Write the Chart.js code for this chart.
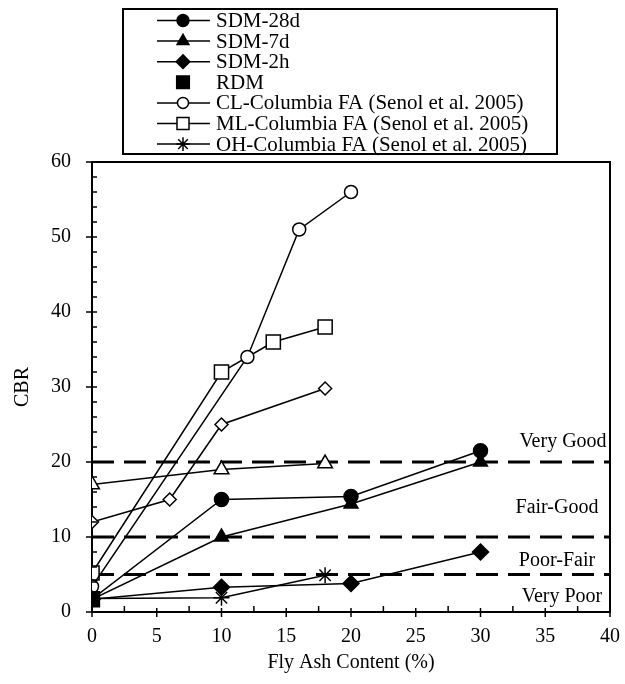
<!DOCTYPE html>
<html>
<head>
<meta charset="utf-8">
<script src="https://cdn.jsdelivr.net/npm/chart.js@4"></script>
<style>
  body { margin: 0; background: #fff; }
  canvas { display: block; }
</style>
</head>
<body>
<canvas id="myChart" width="625" height="684"></canvas>
<script>
// Messwerte (Fly Ash Content % -> CBR)
const x_sdm = [0, 10, 20, 30];
const cbr_sdm28d = [1.7, 15, 15.4, 21.5];
const cbr_sdm7d = [1.7, 10, 14.4, 20];
const cbr_sdm2h = [1.7, 3.3, 3.8, 8];
const x_rdm = [0];
const cbr_rdm = [1.7];
const x_cl = [0, 12, 16, 20];
const cbr_cl = [3.4, 34, 51, 56];
const x_ml = [0, 10, 14, 18];
const cbr_ml = [5.2, 32, 36, 38];
const x_oh = [0, 10, 18];
const cbr_oh = [1.8, 1.9, 4.9];
// zwei Reihen ohne Legendeneintrag
const x_diamondOpen = [0, 6, 10, 18];
const cbr_diamondOpen = [12, 15, 25, 29.8];
const x_triangleOpen = [0, 10, 18];
const cbr_triangleOpen = [17, 19, 19.8];

// Bewertungsgrenzen und Beschriftungen
const ratingLimits = [5, 10, 20];
const ratingLabels = ['Very Good', 'Fair-Good', 'Poor-Fair', 'Very Poor'];

const xTicks = [0, 5, 10, 15, 20, 25, 30, 35, 40];
const yTicks = [0, 10, 20, 30, 40, 50, 60];

const FONT = 'Liberation Serif, Times New Roman, serif';

function pts(xs, ys) {
    return xs.map((x, i) => ({ x: x, y: ys[i] }));
}

function series(label, xs, ys, style, radius, filled, showLine, inLegend) {
    return {
        label: label,
        data: pts(xs, ys),
        showLine: showLine,
        borderColor: '#000',
        borderWidth: 1.5,
        pointStyle: style,
        pointRadius: radius,
        pointBorderWidth: 1.5,
        pointBorderColor: '#000',
        pointBackgroundColor: filled ? '#000' : '#fff',
        inLegend: inLegend,
    };
}

const datasets = [
    series('SDM-28d', x_sdm, cbr_sdm28d, 'circle', 7, true, true, true),
    series('SDM-7d', x_sdm, cbr_sdm7d, 'triangle', 8, true, true, true),
    series('SDM-2h', x_sdm, cbr_sdm2h, 'rectRot', 8, true, true, true),
    series('RDM', x_rdm, cbr_rdm, 'rect', 10.5, true, false, true),
    series('CL-Columbia FA (Senol et al. 2005)', x_cl, cbr_cl, 'circle', 6.5, false, true, true),
    series('ML-Columbia FA (Senol et al. 2005)', x_ml, cbr_ml, 'rect', 10, false, true, true),
    series('OH-Columbia FA (Senol et al. 2005)', x_oh, cbr_oh, 'star', 8, false, true, true),
    series('open diamond', x_diamondOpen, cbr_diamondOpen, 'rectRot', 6.5, false, true, false),
    series('open triangle', x_triangleOpen, cbr_triangleOpen, 'triangle', 8.5, false, true, false),
];

function marker(ctx, style, r, filled, x, y) {
    ctx.save();
    ctx.beginPath();
    if (style === 'circle') {
        ctx.arc(x, y, r, 0, Math.PI * 2);
    } else if (style === 'triangle') {
        ctx.moveTo(x, y - r);
        ctx.lineTo(x + r * 0.866, y + r * 0.5);
        ctx.lineTo(x - r * 0.866, y + r * 0.5);
        ctx.closePath();
    } else if (style === 'rectRot') {
        ctx.moveTo(x, y - r); ctx.lineTo(x + r, y); ctx.lineTo(x, y + r); ctx.lineTo(x - r, y);
        ctx.closePath();
    } else if (style === 'rect') {
        const s = r * Math.SQRT1_2;
        ctx.rect(x - s, y - s, 2 * s, 2 * s);
    } else if (style === 'star') {
        for (let a = 0; a < 4; a++) {
            const ang = a * Math.PI / 4;
            ctx.moveTo(x - Math.cos(ang) * r, y - Math.sin(ang) * r);
            ctx.lineTo(x + Math.cos(ang) * r, y + Math.sin(ang) * r);
        }
    }
    ctx.lineWidth = 1.5;
    ctx.strokeStyle = '#000';
    if (style !== 'star') {
        ctx.fillStyle = filled ? '#000' : '#fff';
        ctx.fill();
    }
    ctx.stroke();
    ctx.restore();
}

const framePlugin = {
    id: 'frame',
    beforeDatasetsDraw(chart) {
        const ctx = chart.ctx, a = chart.chartArea, ys = chart.scales.y;
        ctx.save();
        ctx.strokeStyle = '#000';
        ctx.lineWidth = 3;
        ctx.setLineDash([22, 10]);
        ratingLimits.forEach(v => {
            const py = ys.getPixelForValue(v);
            ctx.beginPath();
            ctx.moveTo(a.left, py);
            ctx.lineTo(a.right, py);
            ctx.stroke();
        });
        ctx.restore();
    },
    afterDraw(chart) {
        const ctx = chart.ctx, a = chart.chartArea;
        const xs = chart.scales.x, ys = chart.scales.y;
        ctx.save();
        ctx.strokeStyle = '#000';
        ctx.lineWidth = 2;
        // Rahmen oben und rechts
        ctx.beginPath();
        ctx.moveTo(a.left, a.top);
        ctx.lineTo(a.right, a.top);
        ctx.lineTo(a.right, a.bottom);
        ctx.stroke();

        // Teilstriche
        ctx.lineWidth = 1.5;
        for (let v = 0; v <= 40; v += 2.5) {
            const px = xs.getPixelForValue(v);
            const major = v % 5 === 0;
            ctx.beginPath();
            ctx.moveTo(px, a.bottom - (major ? 4 : 6));
            ctx.lineTo(px, a.bottom + (major ? 5 : 0));
            ctx.stroke();
        }
        for (let v = 0; v <= 60; v += 2) {
            const py = ys.getPixelForValue(v);
            const major = v % 10 === 0;
            ctx.beginPath();
            ctx.moveTo(a.left - (major ? 6 : 0), py);
            ctx.lineTo(a.left + 5, py);
            ctx.stroke();
        }

        // Bewertungstexte
        ctx.fillStyle = '#000';
        ctx.font = '20px ' + FONT;
        ctx.textAlign = 'center';
        ctx.textBaseline = 'middle';
        const labelY = [22.7, 13.9, 6.9, 2.0];
        const labelX = [563, 557, 557, 562];
        ratingLabels.forEach((t, i) => {
            ctx.fillText(t, labelX[i], ys.getPixelForValue(labelY[i]));
        });

        // Legende
        ctx.lineWidth = 2;
        ctx.strokeRect(123, 9, 434, 145);
        ctx.font = '21px ' + FONT;
        ctx.textAlign = 'left';
        let row = 0;
        chart.data.datasets.forEach(ds => {
            if (!ds.inLegend) return;
            const y = 20.5 + row * 20.6;
            if (ds.showLine) {
                ctx.lineWidth = 1.5;
                ctx.beginPath();
                ctx.moveTo(157, y);
                ctx.lineTo(210, y);
                ctx.stroke();
            }
            marker(ctx, ds.pointStyle, ds.pointRadius * 0.85, ds.pointBackgroundColor === '#000', 183, y);
            ctx.fillText(ds.label, 216, y + 1);
            row++;
        });
        ctx.restore();
    }
};

var ctx = document.getElementById('myChart').getContext('2d');
var myChart = new Chart(ctx, {
    type: 'scatter',
    data: { datasets: datasets },
    options: {
        responsive: false,
        animation: false,
        devicePixelRatio: 1,
        layout: { padding: { top: 162, right: 0, bottom: 0, left: 0 } },
        plugins: {
            legend: { display: false },
            tooltip: { enabled: false },
        },
        elements: { line: { tension: 0 } },
        scales: {
            x: {
                type: 'linear',
                min: 0,
                max: 40,
                afterBuildTicks: s => { s.ticks = xTicks.map(v => ({ value: v })); },
                afterFit: s => { s.height = 72; },
                grid: { display: false },
                border: { display: true, color: '#000', width: 2 },
                ticks: { color: '#000', font: { family: FONT, size: 20 }, padding: 5, maxRotation: 0 },
                title: {
                    display: true,
                    text: 'Fly Ash Content (%)',
                    color: '#000',
                    font: { family: FONT, size: 20 },
                    padding: { top: 0, bottom: 9 },
                },
            },
            y: {
                type: 'linear',
                min: 0,
                max: 60,
                afterBuildTicks: s => { s.ticks = yTicks.map(v => ({ value: v })); },
                afterFit: s => { s.width = 92; },
                grid: { display: false },
                border: { display: true, color: '#000', width: 2 },
                ticks: { color: '#000', font: { family: FONT, size: 20 }, padding: 13 },
                title: {
                    display: true,
                    text: 'CBR',
                    color: '#000',
                    font: { family: FONT, size: 20 },
                    padding: { top: 11, bottom: 0 },
                },
            },
        },
    },
    plugins: [framePlugin],
});
</script>
</body>
</html>
